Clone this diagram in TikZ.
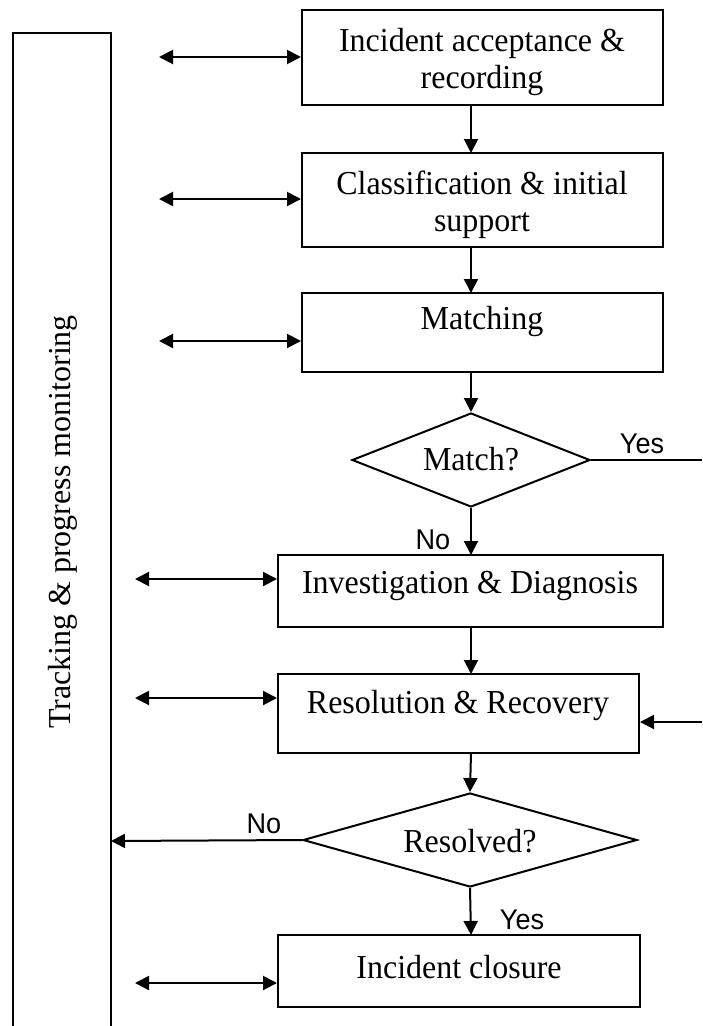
\documentclass[tikz,border=0pt]{standalone}
\usepackage{fontspec}
\setmainfont{Liberation Serif}
\newfontfamily\labelfont{Liberation Sans}
\usetikzlibrary{arrows.meta,shapes.geometric}

\begin{document}
\begin{tikzpicture}[x=1pt,y=-1pt,
  line width=2pt,
  tip/.style={-{Triangle[length=14pt,width=14pt]}},
  bitip/.style={{Triangle[length=14pt,width=14pt]}-{Triangle[length=14pt,width=14pt]}},
  procbox/.style={draw, rectangle, inner sep=0pt},
  decision/.style={draw, diamond, inner sep=0pt},
  txt/.style={font=\fontsize{33.5}{36}\selectfont, align=center, inner sep=0pt,
              xscale=0.955, text height=22pt, text depth=0pt},
  sidetxt/.style={font=\fontsize{32}{35}\selectfont, inner sep=0pt,
              text height=21pt, text depth=0pt, rotate=90},
  lbl/.style={font=\labelfont\fontsize{28.5}{30}\selectfont, inner sep=0pt,
              xscale=0.95, text height=20.4pt, text depth=0pt}
]
\useasboundingbox (0,0) rectangle (702,1026);

% tracking column on the left (open at the bottom)
\draw (13,1026) -- (13,33) -- (111,33) -- (111,1026);
\node[sidetxt] (track) at (60,522) {Tracking \& progress monitoring};
\coordinate (trackR) at (111,841);

% process boxes
\node[procbox, minimum width=361pt, minimum height=95pt] (b1) at (482.5,57.5) {};
\node[procbox, minimum width=361pt, minimum height=94pt] (b2) at (482.5,200) {};
\node[procbox, minimum width=361pt, minimum height=79pt] (b3) at (482.5,332.5) {};
\node[procbox, minimum width=385pt, minimum height=72pt] (b4) at (470.5,591) {};
\node[procbox, minimum width=361pt, minimum height=79pt] (b5) at (458.5,713.5) {};
\node[procbox, minimum width=362pt, minimum height=72pt] (b6) at (459,971) {};

% box texts
\node[txt] (t1a) at (482,40) {Incident acceptance \&};
\node[txt] (t1b) at (482,77) {recording};
\node[txt] (t2a) at (482,183) {Classification \& initial};
\node[txt] (t2b) at (482,220) {support};
\node[txt] (t3) at (482,318) {Matching};
\node[txt] (t4) at (470,582) {Investigation \& Diagnosis};
\node[txt] (t5) at (458,702) {Resolution \& Recovery};
\node[txt] (t6) at (459,967) {Incident closure};

% decisions
\node[decision, minimum width=238pt, minimum height=94pt] (d1) at (471,460) {};
\node[txt] (t7) at (471,459.5) {Match?};
\node[decision, minimum width=334pt, minimum height=94pt] (d2) at (470,840) {};
\node[txt] (t8) at (470,841.5) {Resolved?};

% main flow
\draw[tip] (471,105) -- (471,153);
\draw[tip] (471,247) -- (471,293);
\draw[tip] (471,372) -- (d1.north);
\draw[tip] (d1.south) -- (471,555);
\draw[tip] (471,627) -- (471,674);
\draw[tip] (471,753) -- (d2.north);
\draw[tip] (d2.south) -- (471,935);

% links with the tracking column
\coordinate (a1) at (159,57);  \draw[bitip] (a1) -- (b1.west |- a1);
\coordinate (a2) at (159,199); \draw[bitip] (a2) -- (b2.west |- a2);
\coordinate (a3) at (159,341); \draw[bitip] (a3) -- (b3.west |- a3);
\coordinate (a4) at (135,579); \draw[bitip] (a4) -- (b4.west |- a4);
\coordinate (a5) at (135,698); \draw[bitip] (a5) -- (b5.west |- a5);
\coordinate (a6) at (135,983); \draw[bitip] (a6) -- (b6.west |- a6);

% branches
\coordinate (yesEnd) at (702,460);
\draw (d1.east) -- (yesEnd);
\coordinate (backIn) at (702,722);
\draw[tip] (backIn) -- (b5.east |- backIn);
\draw[tip] (d2.west) -- (trackR);

% branch labels
\node[lbl] (y1) at (642,443.5) {Yes};
\node[lbl] (n1) at (433,539) {No};
\node[lbl] (n2) at (264,823.5) {No};
\node[lbl] (y2) at (522,919) {Yes};
\end{tikzpicture}
\end{document}
